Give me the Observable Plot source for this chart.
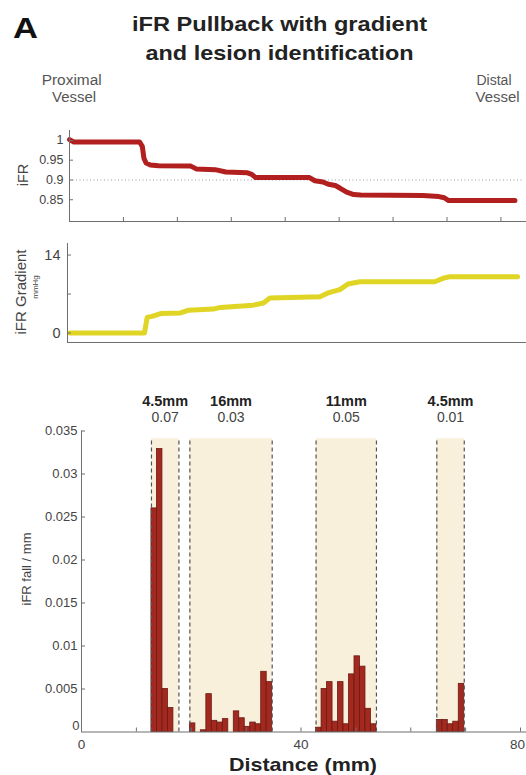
<!DOCTYPE html>
<html><head><meta charset="utf-8">
<script src="https://cdn.jsdelivr.net/npm/d3@7"></script>
<script src="https://cdn.jsdelivr.net/npm/@observablehq/plot@0.6"></script>
<style>
body{margin:0;background:#fff;font-family:"Liberation Sans",Arial,Helvetica,sans-serif;}
#wrap{position:relative;width:526px;height:775px;overflow:hidden;}
#wrap > svg, #wrap > div{position:absolute;left:0;}
</style></head><body><div id="wrap"></div>
<script>
// ---- data ----
const ifrPos = [0, 0.08, 1.3, 1.35, 1.38, 1.42, 1.5, 1.65, 2.25, 2.35, 2.7, 2.9, 3.3, 3.38, 3.45, 4.45, 4.55, 4.7, 4.8, 4.93, 5.02, 5.14, 5.27, 5.4, 6.55, 6.85, 6.95, 7.03, 8.26];
const ifrVal = [1.002, 0.996, 0.996, 0.985, 0.955, 0.943, 0.938, 0.936, 0.935, 0.928, 0.926, 0.92, 0.918, 0.914, 0.906, 0.906, 0.898, 0.895, 0.889, 0.886, 0.879, 0.869, 0.863, 0.862, 0.861, 0.858, 0.855, 0.848, 0.848];
const gradPos = [0, 1.39, 1.44, 1.53, 1.69, 2.06, 2.21, 2.67, 2.8, 3.41, 3.6, 3.72, 4.65, 4.8, 5.02, 5.17, 5.39, 6.78, 6.96, 7.06, 8.32];
const gradVal = [0, 0, 2.8, 3.0, 3.5, 3.6, 4.1, 4.3, 4.6, 5.0, 5.4, 6.3, 6.5, 7.2, 7.8, 8.8, 9.2, 9.2, 9.9, 10.1, 10.1];
const binStart = [12.75, 13.75, 14.75, 15.75,
  19.75, 21.75, 22.75, 23.75, 24.75, 25.75, 27.75, 28.75, 29.75, 30.75, 31.75, 32.75, 33.75,
  42.75, 43.75, 44.75, 45.75, 46.75, 47.75, 48.75, 49.75, 50.75, 51.75, 52.75,
  64.75, 65.75, 66.75, 67.75, 68.75];
const binFall = [0.026, 0.0329, 0.005, 0.0028,
  0.001, 0.0002, 0.0044, 0.0013, 0.0011, 0.0015, 0.0024, 0.0016, 0.0006, 0.0011, 0.0009, 0.0070, 0.0058,
  0.0005, 0.0050, 0.0058, 0.0012, 0.0058, 0.0009, 0.0067, 0.0088, 0.0076, 0.0027, 0.0009,
  0.0014, 0.0014, 0.0009, 0.0012, 0.0056];
const lesionStart = [12.75, 19.75, 42.75, 64.75];
const lesionEnd = [17.75, 34.75, 53.75, 69.75];
const lesionLength = ["4.5mm", "16mm", "11mm", "4.5mm"];
const lesionDrop = ["0.07", "0.03", "0.05", "0.01"];
const ifrTicks = [0.85, 0.9, 0.95, 1];
const gradTicks = [0, 7, 14];
const gradTickLabels = ["0", "", "14"];
const fallTicks = [0.005, 0.01, 0.015, 0.02, 0.025, 0.03, 0.035];
const distTicks = [0, 10, 20, 30, 40, 50, 60, 70, 80];
const distLabelTicks = [0, 40];
const distLastTick = [80];
const pullTicks = [1, 2, 3, 4, 5, 6, 7, 8];

// ---- build tables ----
const ifr = ifrPos.map((x, i) => ({x, y: ifrVal[i]}));
const grad = gradPos.map((x, i) => ({x, y: gradVal[i]}));
const bins = binStart.map((x, i) => ({x, v: binFall[i]}));
const lesions = lesionStart.map((s, i) => ({s, e: lesionEnd[i], len: lesionLength[i], drop: lesionDrop[i]}));
const edges = lesions.flatMap(d => [d.s, d.e]);

const AX = "#6f6f6f";
const baseStyle = {fontFamily: "'Liberation Sans', Arial, sans-serif", color: "#444", background: "transparent", overflow: "visible"};
const wrap = document.getElementById("wrap");
function place(el, top) { el.style.top = top + "px"; wrap.appendChild(el); }

// ---- panel 1: iFR ----
const p1 = Plot.plot({
  width: 526, height: 106, marginTop: 10, marginBottom: 5, marginLeft: 69, marginRight: 4,
  style: {...baseStyle, fontSize: "12px"},
  x: {domain: [0, 8.4]},
  y: {domain: [0.795, 1.025]},
  marks: [
    Plot.ruleY([0.9], {stroke: "#9a9a9a", strokeDasharray: "1,2.5"}),
    Plot.line(ifr, {x: "x", y: "y", stroke: "#b21f1f", strokeWidth: 5}),
    Plot.ruleX([0], {stroke: AX}),
    Plot.ruleY([0.795], {stroke: AX, insetRight: -4}),
    Plot.axisY({ticks: ifrTicks, tickSize: -4, tickPadding: 10, tickFormat: d => String(d), label: null, stroke: AX, fontSize: 12.5}),
    Plot.axisX({ticks: pullTicks, tickSize: -4, tickFormat: () => "", label: null, stroke: AX})
  ]
});
place(p1, 120);

// ---- panel 2: iFR gradient ----
const p2 = Plot.plot({
  width: 526, height: 112, marginTop: 8, marginBottom: 5, marginLeft: 67, marginRight: 2,
  style: {...baseStyle, fontSize: "14px"},
  x: {domain: [-0.04, 8.45], axis: null},
  y: {domain: [-1.7, 16.07]},
  marks: [
    Plot.line(grad, {x: "x", y: "y", stroke: "#e0d424", strokeWidth: 5}),
    Plot.ruleX([-0.04], {stroke: AX}),
    Plot.ruleY([-1.7], {stroke: AX, insetRight: -2}),
    Plot.axisY({ticks: gradTicks, tickSize: -4, tickPadding: 11, tickFormat: (d, i) => gradTickLabels[i], label: null, stroke: AX, fontSize: 14.5})
  ]
});
place(p2, 235);

// ---- panel 3: iFR fall per mm ----
const p3 = Plot.plot({
  width: 526, height: 395, marginTop: 50.5, marginBottom: 43.5, marginLeft: 81, marginRight: 6,
  style: {...baseStyle, fontSize: "13px"},
  x: {domain: [0, 80]},
  y: {domain: [0, 0.035]},
  marks: [
    Plot.rect(lesions, {x1: "s", x2: "e", y1: 0, y2: 0.0341, fill: "#f9f0dc"}),
    Plot.rectY(bins, {x1: "x", x2: d => d.x + 1, y: "v", fill: "#a3291f", stroke: "#6a1a14", strokeWidth: 0.8}),
    Plot.ruleX(edges, {x: d => d, y1: 0, y2: 0.0341, stroke: "#555", strokeWidth: 1.2, strokeDasharray: "4,3"}),
    Plot.text(lesions, {x: d => (d.s + d.e) / 2, text: "len", frameAnchor: "top", lineAnchor: "middle", dy: -30, fontWeight: "bold", fontSize: 14.5, fill: "#222"}),
    Plot.text(lesions, {x: d => (d.s + d.e) / 2, text: "drop", frameAnchor: "top", lineAnchor: "middle", dy: -13, fontSize: 14, fill: "#444"}),
    Plot.ruleX([0], {stroke: AX}),
    Plot.ruleY([0], {stroke: AX, insetRight: -8}),
    Plot.axisY({ticks: fallTicks, tickSize: -4, tickPadding: 8, tickFormat: d => String(d), label: null, stroke: AX, fontSize: 13}),
    Plot.axisY({ticks: [0], tickSize: 0, tickPadding: 2, tickFormat: d => String(d), label: null, dy: -6, fontSize: 13}),
    Plot.axisX({ticks: distTicks, tickSize: -4, tickFormat: () => "", label: null, stroke: AX}),
    Plot.axisX({ticks: distLabelTicks, tickSize: 0, tickPadding: 7, tickFormat: d => String(d), label: null, fontSize: 13.5}),
    Plot.axisX({ticks: distLastTick, tickSize: 0, tickPadding: 7, tickFormat: d => String(d), label: null, fontSize: 13.5, dx: -3})
  ]
});
place(p3, 380);

// ---- overlay texts ----
const ns = "http://www.w3.org/2000/svg";
const ov = document.createElementNS(ns, "svg");
ov.setAttribute("width", 526); ov.setAttribute("height", 775);
ov.style.top = "0px"; ov.style.pointerEvents = "none";
ov.style.fontFamily = "'Liberation Sans', Arial, sans-serif";
function t(str, x, y, o = {}) {
  const e = document.createElementNS(ns, "text");
  e.textContent = str;
  e.setAttribute("x", x); e.setAttribute("y", y);
  e.setAttribute("text-anchor", o.anchor || "middle");
  e.setAttribute("font-size", o.size || 14);
  e.setAttribute("fill", o.fill || "#444");
  if (o.bold) e.setAttribute("font-weight", "bold");
  if (o.len) { e.setAttribute("textLength", o.len); e.setAttribute("lengthAdjust", "spacingAndGlyphs"); }
  if (o.rot) e.setAttribute("transform", `rotate(-90 ${x} ${y})`);
  ov.appendChild(e);
}
t("A", 13, 38, {anchor: "start", size: 29, bold: true, fill: "#111", len: 25});
t("iFR Pullback with gradient", 279.5, 31, {size: 20.5, bold: true, fill: "#222", len: 295});
t("and lesion identification", 279.5, 59.5, {size: 20.5, bold: true, fill: "#222", len: 268});
t("Proximal", 71.7, 85, {size: 14, fill: "#555", len: 60});
t("Vessel", 74, 101.5, {size: 14, fill: "#555", len: 44});
t("Distal", 494, 85, {size: 14, fill: "#555", len: 35});
t("Vessel", 497.5, 101.5, {size: 14, fill: "#555", len: 44});
t("iFR", 27.5, 175, {size: 14.5, rot: true});
t("iFR Gradient", 26, 292, {size: 15, rot: true});
t("mmHg", 38, 287, {size: 8, rot: true});
t("iFR fall / mm", 30.5, 569, {size: 13, rot: true});
t("Distance (mm)", 303, 771, {size: 19, bold: true, fill: "#222", len: 148});
wrap.appendChild(ov);
</script>
</body></html>
